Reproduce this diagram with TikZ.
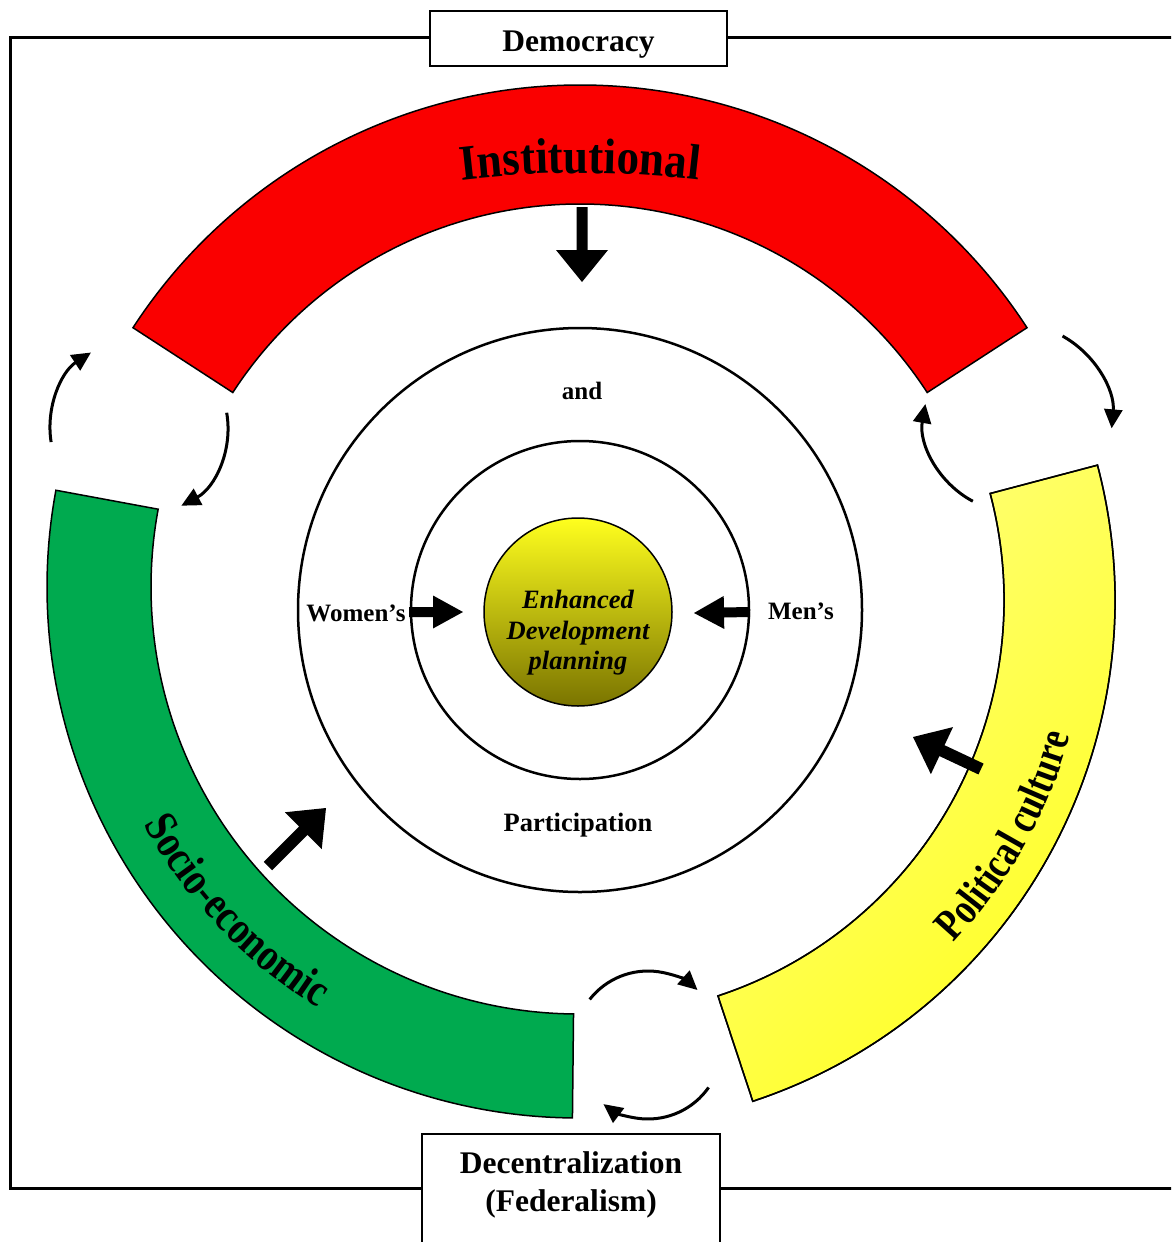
\documentclass[tikz,border=0pt]{standalone}
\usepackage{fontspec}
\setmainfont{Liberation Serif}
\newfontfamily\instfont[FakeStretch=0.9]{Liberation Serif}
\newfontfamily\sociofont[FakeStretch=0.84]{Liberation Serif}
\newfontfamily\polfont[FakeStretch=0.8]{Liberation Serif}
\usetikzlibrary{arrows.meta,calc,decorations.text}

\definecolor{bandred}{RGB}{250,0,0}
\definecolor{bandgreen}{RGB}{0,170,79}
\definecolor{bandyellow}{RGB}{255,255,30}
\definecolor{paleyellow}{RGB}{255,255,120}
\definecolor{darkolive}{RGB}{122,116,0}
\definecolor{midolive}{RGB}{205,203,0}

% filled block arrow: tail, tip, shaft half width, head length, head half width
\newcommand\thickarrow[5]{%
  \coordinate (thkh) at ($(#2)!#4!(#1)$);
  \fill ($(#1)!#3!90:(#2)$) -- ($(thkh)!#3!90:(#2)$) -- ($(thkh)!#5!90:(#2)$)
    -- (#2) -- ($(thkh)!#5!-90:(#2)$) -- ($(thkh)!#3!-90:(#2)$)
    -- ($(#1)!#3!-90:(#2)$) -- cycle;}

\tikzset{
  band/.style={draw=black, line width=1.5pt, line join=miter},
  ring/.style={circle, draw=black, line width=2.5pt, inner sep=0pt},
  cycarrow/.style={line width=3pt, -{Triangle[length=19pt,width=18pt]}},
  lbl/.style={font=\bfseries\fontsize{25}{30}\selectfont, inner sep=0pt},
  titlebox/.style={draw=black, line width=1.5pt, fill=white, inner sep=0pt},
  titletext/.style={font=\bfseries\fontsize{31.5}{38}\selectfont, align=center},
}

\begin{document}
\begin{tikzpicture}[x=1pt,y=1pt]
\useasboundingbox (0,0) rectangle (1171,-1242);
\clip (0,0) rectangle (1171,-1242);

% outer frame (runs off the right edge)
\draw[line width=3pt] (10,-37) rectangle (1200,-1188);

% centres of the three bands and of the rings
\coordinate (cR) at (580,-618);
\coordinate (cG) at (578,-587);
\coordinate (cY) at (587,-600);
\coordinate (O)  at (580,-610);

% red band
\path[band, fill=bandred]
  ($(cR)+(33:533)$) arc[start angle=33, end angle=147, radius=533]
  -- ($(cR)+(147:414)$) arc[start angle=147, end angle=33, radius=414] -- cycle;
% green band
\path[band, fill=bandgreen]
  ($(cG)+(169.5:531)$) arc[start angle=169.5, end angle=269.4, radius=531]
  -- ($(cG)+(269.4:427)$) arc[start angle=269.4, end angle=169.5, radius=427] -- cycle;
% yellow band
\path[band, left color=paleyellow, right color=bandyellow, shading angle=45]
  ($(cY)+(-71.7:528)$) arc[start angle=-71.7, end angle=14.8, radius=528]
  -- ($(cY)+(14.8:417)$) arc[start angle=14.8, end angle=-71.7, radius=417] -- cycle;
\draw[band] ($(cY)+(-71.7:528)$) arc[start angle=-71.7, end angle=14.8, radius=528]
  -- ($(cY)+(14.8:417)$) arc[start angle=14.8, end angle=-71.7, radius=417] -- cycle;

% band titles
\path[decorate, decoration={text along path, text align=center,
  text={|\instfont\bfseries\fontsize{50}{60}\selectfont|Institutional}}]
  (580,-1173) ++(99:1000) arc[start angle=99, end angle=81, radius=1000];
\path[decorate, decoration={text along path, text align=center,
  text={|\sociofont\bfseries\fontsize{46}{55}\selectfont|Socio-economic}}]
  ($(cG)+(190:495)$) arc[start angle=190, end angle=257, radius=495];
\path[decorate, decoration={text along path, text align=center,
  text={|\polfont\bfseries\fontsize{44}{53}\selectfont|Political culture}}]
  ($(cY)+(-62.4:502)$) arc[start angle=-62.4, end angle=3.6, radius=502];

% rings
\node[ring, minimum size=564pt] (outerring) at (O) {};
\node[ring, minimum size=338pt] (midring) at (O) {};
\node[circle, draw=black, line width=1.5pt, minimum size=188pt, inner sep=0pt,
      top color=bandyellow, middle color=midolive, bottom color=darkolive]
      (core) at (578,-612) {};
\node[font=\bfseries\itshape\fontsize{26.5}{30.5}\selectfont, align=center]
      (coretext) at (578,-633) {Enhanced\\Development\\planning};

\node[lbl] (and) at (582,-391) {and};
\node[lbl, font=\bfseries\fontsize{26.5}{30}\selectfont] (particip) at (578,-825) {Participation};
\node[lbl] (women) at (356,-613) {Women’s};
\node[lbl] (men) at (801,-611) {Men’s};

% title boxes
\node[titlebox, minimum width=297pt, minimum height=55pt] (democ) at (578.5,-38.5) {};
\node[titletext] (democtext) at (578.5,-45) {Democracy};
\node[titlebox, minimum width=298pt, minimum height=140pt, anchor=north] (decbox) at (571,-1133) {};
\node[titletext] (dectext) at (571,-1185) {Decentralization\\(Federalism)};

% circular arrows in the gaps between bands
\coordinate (cTL) at (140,-428);
\coordinate (cTR) at (1016,-420);
\coordinate (cB)  at (648,-1045);
\draw[cycarrow] ($(cTL)+(189:90)$) arc[start angle=189, end angle=123, radius=90];
\draw[cycarrow] ($(cTL)+(10:88)$) arc[start angle=10, end angle=-62, radius=88];
\draw[cycarrow] ($(cTR)+(61:96)$) arc[start angle=61, end angle=-5, radius=96];
\draw[cycarrow] ($(cTR)+(242:92)$) arc[start angle=242, end angle=170, radius=92];
\draw[cycarrow] ($(cB)+(142:74)$) arc[start angle=142, end angle=48, radius=74];
\draw[cycarrow] ($(cB)+(-35:74)$) arc[start angle=-35, end angle=-127, radius=74];

% block arrows pointing inwards
\coordinate (instA) at (582,-207);  \coordinate (instB) at (582,-282);
\coordinate (socA)  at (268,-866);  \coordinate (socB)  at (326,-808);
\coordinate (polA)  at (981,-769);  \coordinate (polB)  at (913,-737);
\coordinate (womA)  at (409,-612);  \coordinate (womB)  at (463,-612);
\coordinate (menA)  at (750,-612);  \coordinate (menB)  at (694,-613);
\thickarrow{instA}{instB}{5.5pt}{32pt}{26pt}
\thickarrow{socA}{socB}{6pt}{32pt}{26pt}
\thickarrow{polA}{polB}{6pt}{32pt}{26pt}
\thickarrow{womA}{womB}{5pt}{30pt}{16.5pt}
\thickarrow{menA}{menB}{5pt}{30pt}{16.5pt}
\end{tikzpicture}
\end{document}
